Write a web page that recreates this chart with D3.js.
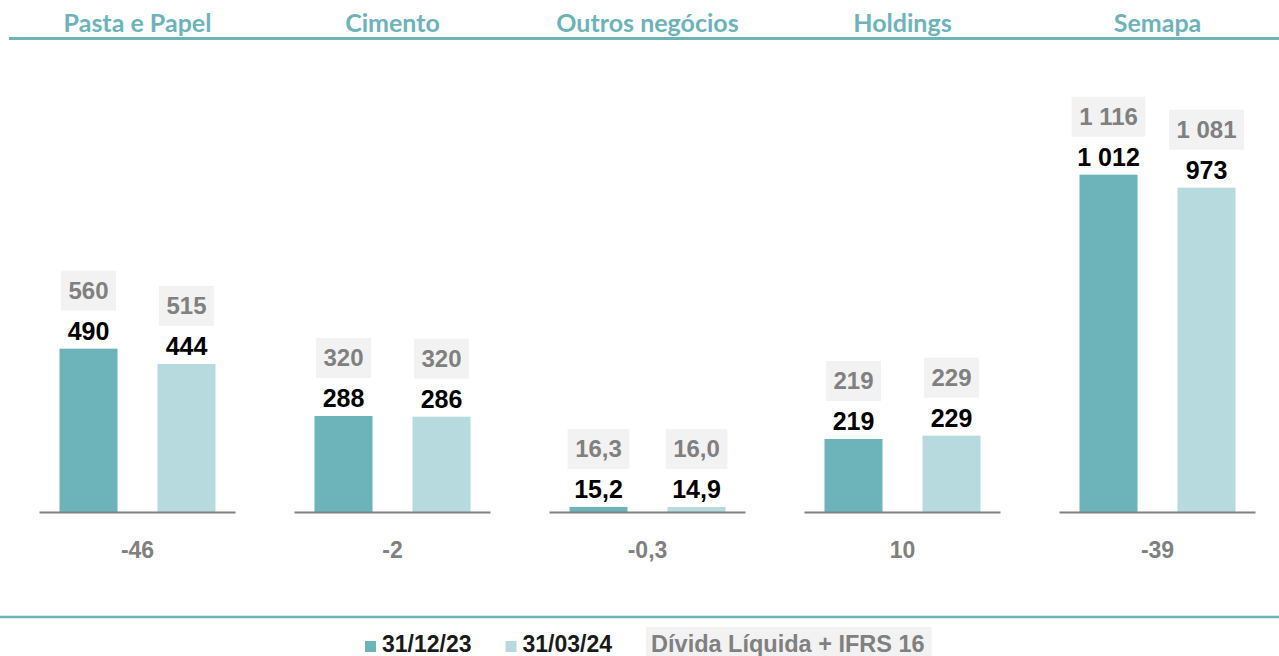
<!DOCTYPE html>
<html>
<head>
<meta charset="utf-8">
<script src="https://cdn.jsdelivr.net/npm/d3@7"></script>
<style>
  body { margin: 0; background: #fff; }
  svg { display: block; }
</style>
</head>
<body>
<svg id="chart" width="1279" height="656"></svg>
<script>
// data
const categories = ['Pasta e Papel', 'Cimento', 'Outros negócios', 'Holdings', 'Semapa'];
const series = ['31/12/23', '31/03/24'];
const debt2312 = [490, 288, 15.2, 219, 1012];
const debt0324 = [444, 286, 14.9, 229, 973];
const ifrs2312 = [560, 320, 16.3, 219, 1116];
const ifrs0324 = [515, 320, 16.0, 229, 1081];
const variation = [-46, -2, -0.3, 10, -39];
const decimals = [0, 0, 1, 0, 0];
const ifrsLabel = 'Dívida Líquida + IFRS 16';

const teal = '#6cb3ba';
const lightTeal = '#b6dadd';
const grey = '#808080';
const boxFill = '#f2f2f2';
const numFont = '"Liberation Sans", Arial, sans-serif';

const pt = d3.formatLocale({ decimal: ',', thousands: ' ', grouping: [3], currency: ['', ' €'], minus: '-' });
const fmt = (v, i) => pt.format(',.' + decimals[i] + 'f')(v);

const svg = d3.select('#chart');
const baseY = 512;

// panels across the width
const xPanel = d3.scaleBand().domain(categories).range([10, 1285]);
// the two bars inside a panel, relative to its centre
const xBar = d3.scaleBand().domain(series).range([-98, 98]).paddingInner(0.408).paddingOuter(0.204);
const y = d3.scaleLinear().domain([0, 1500]).range([baseY, 12]);
const colour = d3.scaleOrdinal().domain(series).range([teal, lightTeal]);

const rows = categories.map((c, i) => ({
  cat: c, i,
  bars: [
    { s: series[0], v: debt2312[i], ifrs: ifrs2312[i] },
    { s: series[1], v: debt0324[i], ifrs: ifrs0324[i] }
  ],
  diff: variation[i]
}));

// top title line and bottom line
svg.append('line').attr('x1', 9).attr('x2', 1279).attr('y1', 38.5).attr('y2', 38.5)
  .attr('stroke', teal).attr('stroke-width', 3);
svg.append('line').attr('x1', 0).attr('x2', 1279).attr('y1', 617).attr('y2', 617)
  .attr('stroke', teal).attr('stroke-width', 2.5);

const panel = svg.selectAll('.panel').data(rows).join('g')
  .attr('class', 'panel')
  .attr('transform', d => `translate(${xPanel(d.cat) + xPanel.bandwidth() / 2},0)`);

panel.append('text')
  .attr('x', 0).attr('y', 32)
  .attr('text-anchor', 'middle')
  .attr('font-family', 'Lato, "Open Sans", sans-serif')
  .attr('font-weight', 700)
  .attr('font-size', 25)
  .attr('fill', teal)
  .text(d => d.cat);

const bar = panel.selectAll('.bar').data(d => d.bars.map(b => ({ ...b, i: d.i }))).join('g')
  .attr('class', 'bar');

bar.append('rect')
  .attr('x', d => xBar(d.s))
  .attr('width', xBar.bandwidth())
  .attr('y', d => y(d.v))
  .attr('height', d => baseY - y(d.v))
  .attr('fill', d => colour(d.s));

bar.append('text')
  .attr('x', d => xBar(d.s) + xBar.bandwidth() / 2)
  .attr('y', d => y(d.v) - 9)
  .attr('text-anchor', 'middle')
  .attr('font-family', numFont)
  .attr('font-weight', 700)
  .attr('font-size', 25)
  .attr('fill', '#000')
  .text(d => fmt(d.v, d.i));

// grey IFRS 16 boxes above each bar
bar.each(function (d) {
  const g = d3.select(this);
  const cx = xBar(d.s) + xBar.bandwidth() / 2;
  const boxBottom = y(d.v) - 38;
  const rect = g.append('rect').attr('fill', boxFill);
  const t = g.append('text')
    .attr('x', cx).attr('y', boxBottom - 12)
    .attr('text-anchor', 'middle')
    .attr('font-family', numFont)
    .attr('font-weight', 700)
    .attr('font-size', 24)
    .attr('fill', grey)
    .text(fmt(d.ifrs, d.i));
  const w = t.node().getComputedTextLength() + 15;
  rect.attr('x', cx - w / 2).attr('width', w).attr('y', boxBottom - 40).attr('height', 40);
});

// baseline per panel
panel.append('line')
  .attr('x1', xBar.range()[0]).attr('x2', xBar.range()[1])
  .attr('y1', baseY + 0.5).attr('y2', baseY + 0.5)
  .attr('stroke', grey).attr('stroke-width', 2);

panel.append('text')
  .attr('x', 0).attr('y', 558)
  .attr('text-anchor', 'middle')
  .attr('font-family', numFont)
  .attr('font-weight', 700)
  .attr('font-size', 23)
  .attr('fill', grey)
  .text(d => fmt(d.diff, d.i));

// legend
const legend = svg.append('g').attr('transform', 'translate(365,0)');
let lx = 0;
series.forEach(s => {
  legend.append('rect').attr('x', lx).attr('y', 641).attr('width', 11).attr('height', 11).attr('fill', colour(s));
  const t = legend.append('text')
    .attr('x', lx + 17).attr('y', 652)
    .attr('font-family', numFont).attr('font-weight', 700).attr('font-size', 23)
    .attr('fill', '#1a1a1a')
    .text(s);
  lx += 17 + t.node().getComputedTextLength() + 34;
});
const boxRect = legend.append('rect').attr('fill', boxFill);
const boxText = legend.append('text')
  .attr('x', lx + 5).attr('y', 652)
  .attr('font-family', numFont).attr('font-weight', 700).attr('font-size', 23.5)
  .attr('fill', grey)
  .text(ifrsLabel);
boxRect.attr('x', lx).attr('y', 627).attr('width', boxText.node().getComputedTextLength() + 12).attr('height', 34);
</script>
</body>
</html>
